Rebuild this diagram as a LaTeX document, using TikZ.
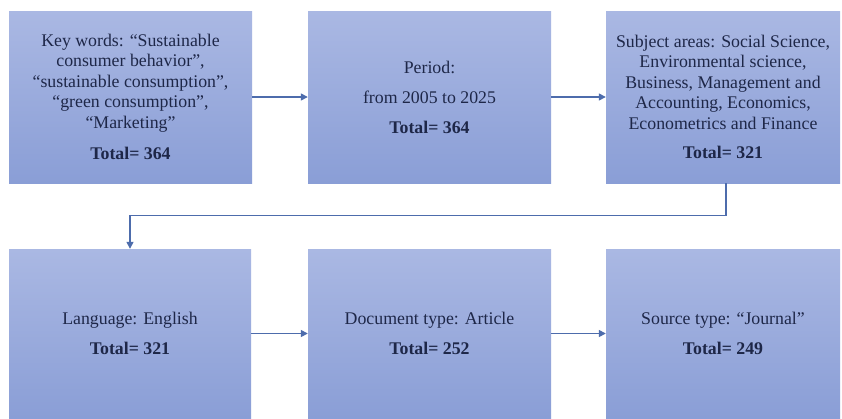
\documentclass[tikz,border=0pt]{standalone}
\usepackage{fontspec}
\setmainfont{Liberation Serif}
\usetikzlibrary{arrows.meta,positioning,calc}
\definecolor{boxtop}{HTML}{AAB8E3}
\definecolor{boxbot}{HTML}{8A9ED6}
\definecolor{boxtext}{HTML}{1E2748}
\definecolor{arrowc}{HTML}{4D6CAC}
\begin{document}
\begin{tikzpicture}[x=1pt,y=-1pt,
  stagebox/.style={rectangle, inner sep=0pt, top color=boxtop, bottom color=boxbot,
    draw=none, text=boxtext, align=center,
    font=\fontsize{17.8}{20.5}\selectfont},
  flow/.style={draw=arrowc, line width=1.4pt, -{Triangle[length=7pt,width=7pt]}}]
\useasboundingbox (0,0) rectangle (842,418);
\fill[white] (0,0) rectangle (842,418);
\node[stagebox, minimum width=243pt, minimum height=172pt] (b1) at (130.5,97)
  {Key words: ``Sustainable\\ consumer behavior'',\\ ``sustainable consumption'',\\ ``green consumption'',\\ ``Marketing''\\[11pt] \textbf{Total= 364}};
\node[stagebox, minimum width=243pt, minimum height=172pt] (b2) at (429.5,97)
  {Period:\\[9.5pt] from 2005 to 2025\\[9.5pt] \textbf{Total= 364}};
\node[stagebox, minimum width=234pt, minimum height=172pt] (b3) at (723,97)
  {Subject areas: Social Science,\\ Environmental science,\\ Business, Management and\\ Accounting, Economics,\\ Econometrics and Finance\\[9pt] \textbf{Total= 321}};
\node[stagebox, minimum width=242pt, minimum height=169pt] (b4) at (130,333.5)
  {Language: English\\[9.5pt] \textbf{Total= 321}};
\node[stagebox, minimum width=243pt, minimum height=169pt] (b5) at (429.5,333.5)
  {Document type: Article\\[9.5pt] \textbf{Total= 252}};
\node[stagebox, minimum width=234pt, minimum height=169pt] (b6) at (723,333.5)
  {Source type: ``Journal''\\[9.5pt] \textbf{Total= 249}};
\draw[flow] (b1.east) -- (b2.west);
\draw[flow] (b2.east) -- (b3.west);
\coordinate (turn) at ($(b3.south)+(3,32)$);
\draw[flow] (b3.south -| turn) -- (turn) -| (b4.north);
\draw[flow] (b4.east) -- (b5.west);
\draw[flow] (b5.east) -- (b6.west);
\end{tikzpicture}
\end{document}
